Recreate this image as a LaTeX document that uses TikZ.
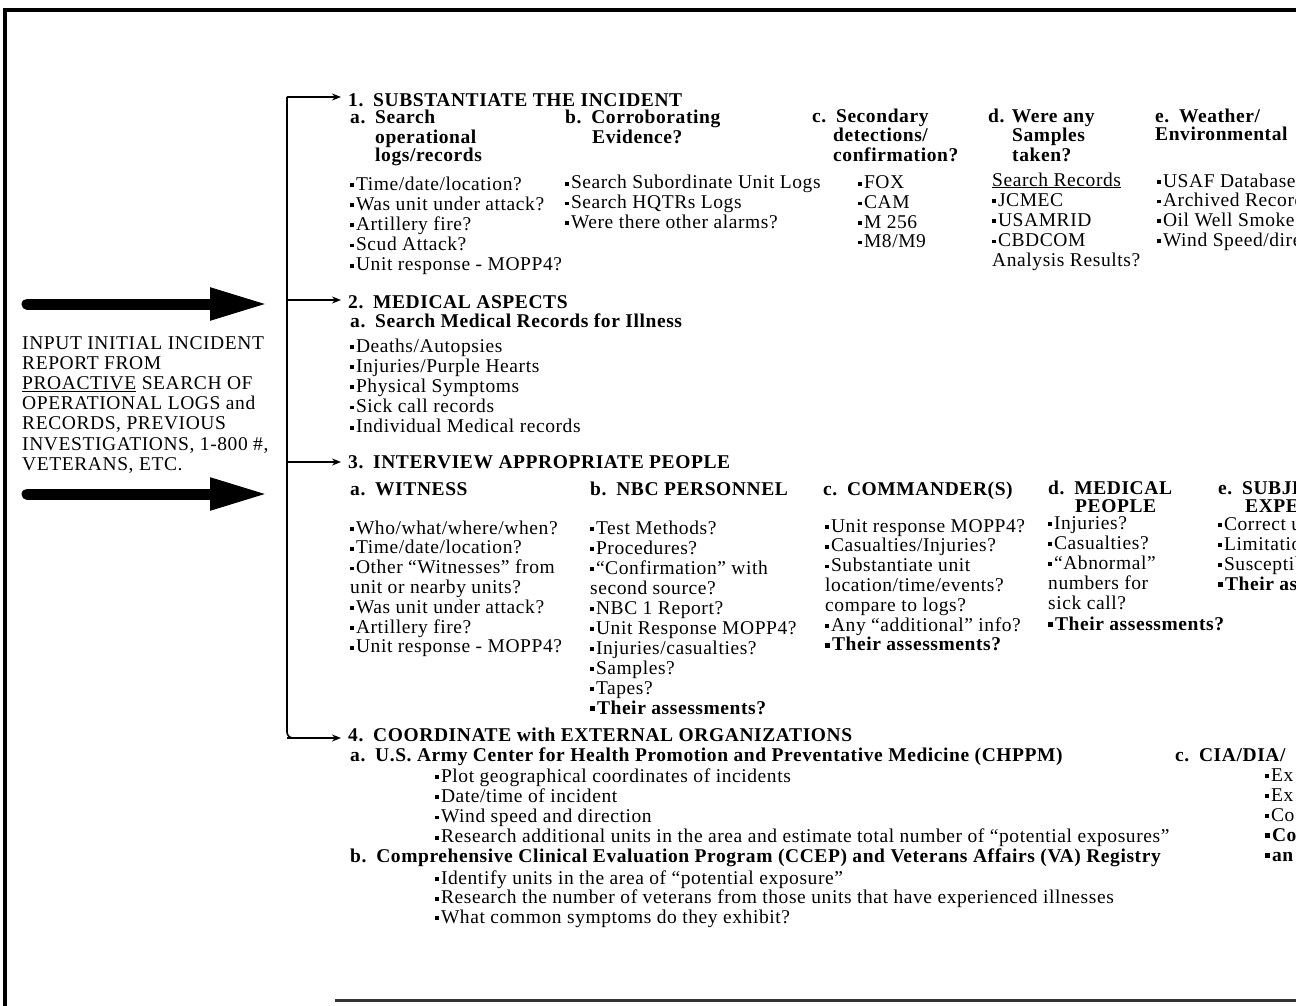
\documentclass[tikz,border=0pt]{standalone}
\usepackage{fontspec}
\setmainfont[LetterSpace=3.0]{Liberation Serif}
\usetikzlibrary{arrows.meta}
\newcommand\bl{\raisebox{3.2pt}{\rule{3.8pt}{3.8pt}}\hspace{2pt}}
\newcommand\bbl{\raisebox{3pt}{\rule{4.8pt}{4.8pt}}\hspace{2pt}}
\tikzset{
  txt/.style={anchor=base west, inner sep=0pt, font=\fontsize{19.5}{20}\selectfont},
  hd/.style={anchor=base west, inner sep=0pt, font=\fontsize{19.5}{20}\selectfont\bfseries},
  framew/.style={line width=4.5pt, black},
  arr/.style={line width=1.6pt, -{Stealth[length=9pt,width=7pt]}},
  bigarr/.style={line width=11pt, line cap=round, -{Triangle[length=58pt,width=30pt]}},
}
% name, style, x, first baseline, spacing, items
\newcommand\lst[6]{%
  \foreach \li [count=\i] in {#6} {\node[#2] (#1-\i) at (#3,{#4+#5*(\i-1)}) {\li};}}
\begin{document}
\begin{tikzpicture}[x=1pt,y=-1pt]
\useasboundingbox (0,0) rectangle (1296,1006);
\clip (0,0) rectangle (1296,1006);
\fill[white] (0,0) rectangle (1296,1006);
% frame
\draw[framew] (3,10) -- (1296,10);
\draw[line width=4pt] (5,8) -- (5,1006);
\draw[line width=3pt, black!80] (335,1000) -- (1296,1000);

% left input text
\lst{inp}{txt}{22}{349}{20.2}{INPUT INITIAL INCIDENT, REPORT FROM, {\underline{PROACTIVE} SEARCH OF}, OPERATIONAL LOGS and, {RECORDS, PREVIOUS}, {INVESTIGATIONS, 1-800 \#,}, {VETERANS, ETC.}}
\coordinate (ba1) at (27,304);
\coordinate (bb1) at (268,304);
\coordinate (ba2) at (27,494);
\coordinate (bb2) at (268,494);
\draw[bigarr] (ba1) -- (bb1);
\draw[bigarr] (ba2) -- (bb2);

% section headers
\node[hd] (h1) at (348,107) {1.\enspace SUBSTANTIATE THE INCIDENT};
\node[hd] (h2) at (348,308) {2.\enspace MEDICAL ASPECTS};
\node[hd] (h3) at (348,468) {3.\enspace INTERVIEW APPROPRIATE PEOPLE};
\node[hd] (h4) at (348,741) {4.\enspace COORDINATE with EXTERNAL ORGANIZATIONS};

% bracket
\coordinate (j1) at (287,97);
\coordinate (j2) at (287,300);
\coordinate (j3) at (287,462);
\coordinate (j4) at (287,738);
\draw[line width=1.6pt, rounded corners=6pt] (j1) -- (j4) -- ([xshift=10pt]j4);
\draw[arr, shorten >=7pt] (j1) -- (j1 -| h1.west);
\draw[arr, shorten >=7pt] (j2) -- (j2 -| h2.west);
\draw[arr, shorten >=7pt] (j3) -- (j3 -| h3.west);
\draw[arr, shorten >=7pt] (j4) -- (j4 -| h4.west);

% section 1 subheads
\node[hd] (s1ah1) at (350,124) {a.\enspace Search};
\node[hd] (s1ah2) at (375,143) {operational};
\node[hd] (s1ah3) at (375,161) {logs/records};
\node[hd] (s1bh1) at (565,124) {b.\enspace Corroborating};
\node[hd] (s1bh2) at (592,143) {Evidence?};
\node[hd] (s1ch1) at (812,123) {c.\enspace Secondary};
\node[hd] (s1ch2) at (833,142) {detections/};
\node[hd] (s1ch3) at (833,161) {confirmation?};
\node[hd] (s1dh1) at (988,123) {d. Were any};
\node[hd] (s1dh2) at (1012,142) {Samples};
\node[hd] (s1dh3) at (1012,161) {taken?};
\node[hd] (s1eh1) at (1155,123) {e.\enspace Weather/};
\node[hd] (s1eh2) at (1155,141) {Environmental};
% section 1 lists
\lst{s1a}{txt}{350}{190}{20.2}{{\bl Time/date/location?}, {\bl Was unit under attack?}, {\bl Artillery fire?}, {\bl Scud Attack?}, {\bl Unit response - MOPP4?}}
\lst{s1b}{txt}{565}{189}{19.5}{{\bl Search Subordinate Unit Logs}, {\bl Search HQTRs Logs}, {\bl Were there other alarms?}}
\lst{s1c}{txt}{858}{189}{19.5}{{\bl FOX}, {\bl CAM}, {\bl M 256}, {\bl M8/M9}}
\lst{s1d}{txt}{992}{186}{20.2}{{\underline{Search Records}}, {\bl JCMEC}, {\bl USAMRID}, {\bl CBDCOM}, {Analysis Results?}}
\lst{s1e}{txt}{1157}{187}{19.7}{{\bl USAF Database}, {\bl Archived Records}, {\bl Oil Well Smoke}, {\bl Wind Speed/direction}}

% section 2
\node[hd] (s2ah) at (350,327) {a.\enspace Search Medical Records for Illness};
\lst{s2a}{txt}{350}{352}{20.2}{{\bl Deaths/Autopsies}, {\bl Injuries/Purple Hearts}, {\bl Physical Symptoms}, {\bl Sick call records}, {\bl Individual Medical records}}

% section 3
\node[hd] (s3ah) at (350,495) {a.\enspace WITNESS};
\node[hd] (s3bh) at (590,495) {b.\enspace NBC PERSONNEL};
\node[hd] (s3ch) at (823,495) {c.\enspace COMMANDER(S)};
\node[hd] (s3dh1) at (1048,494) {d.\enspace MEDICAL};
\node[hd] (s3dh2) at (1075,512) {PEOPLE};
\node[hd] (s3eh1) at (1218,494) {e.\enspace SUBJECT MATTER};
\node[hd] (s3eh2) at (1245,512) {EXPERTS};
\lst{s3a}{txt}{350}{534}{19.8}{{\bl Who/what/where/when?}, {\bl Time/date/location?}, {\bl Other “Witnesses” from}, {unit or nearby units?}, {\bl Was unit under attack?}, {\bl Artillery fire?}, {\bl Unit response - MOPP4?}}
\lst{s3b}{txt}{590}{534}{20}{{\bl Test Methods?}, {\bl Procedures?}, {\bl “Confirmation” with}, {second source?}, {\bl NBC 1 Report?}, {\bl Unit Response MOPP4?}, {\bl Injuries/casualties?}, {\bl Samples?}, {\bl Tapes?}, {\bfseries\bbl Their assessments?}}
\lst{s3c}{txt}{825}{532}{19.8}{{\bl Unit response MOPP4?}, {\bl Casualties/Injuries?}, {\bl Substantiate unit}, {location/time/events?}, {compare to logs?}, {\bl Any “additional” info?}, {\bfseries\bbl Their assessments?}}
\lst{s3d}{txt}{1048}{529}{20.2}{{\bl Injuries?}, {\bl Casualties?}, {\bl “Abnormal”}, {numbers for}, {sick call?}, {\bfseries\bbl Their assessments?}}
\lst{s3e}{txt}{1218}{530}{20}{{\bl Correct use?}, {\bl Limitations?}, {\bl Susceptibility?}, {\bfseries\bbl Their assessments?}}

% section 4
\node[hd] (s4ah) at (350,761) {a.\enspace U.S. Army Center for Health Promotion and Preventative Medicine (CHPPM)};
\lst{s4a}{txt}{435}{782}{20.3}{{\bl Plot geographical coordinates of incidents}, {\bl Date/time of incident}, {\bl Wind speed and direction}, {\bl Research additional units in the area and estimate total number of “potential exposures”}}
\node[hd] (s4bh) at (350,862) {b.\enspace Comprehensive Clinical Evaluation Program (CCEP) and Veterans Affairs (VA) Registry};
\lst{s4b}{txt}{435}{884}{19.7}{{\bl Identify units in the area of “potential exposure”}, {\bl Research the number of veterans from those units that have experienced illnesses}, {\bl What common symptoms do they exhibit?}}
\node[hd] (s4ch) at (1175,761) {c.\enspace CIA/DIA/};
\lst{s4c}{txt}{1265}{781}{20}{{\bl Ex}, {\bl Ex}, {\bl Co}, {\bfseries\bbl Co}, {\bfseries\bbl an}}
\end{tikzpicture}
\end{document}
